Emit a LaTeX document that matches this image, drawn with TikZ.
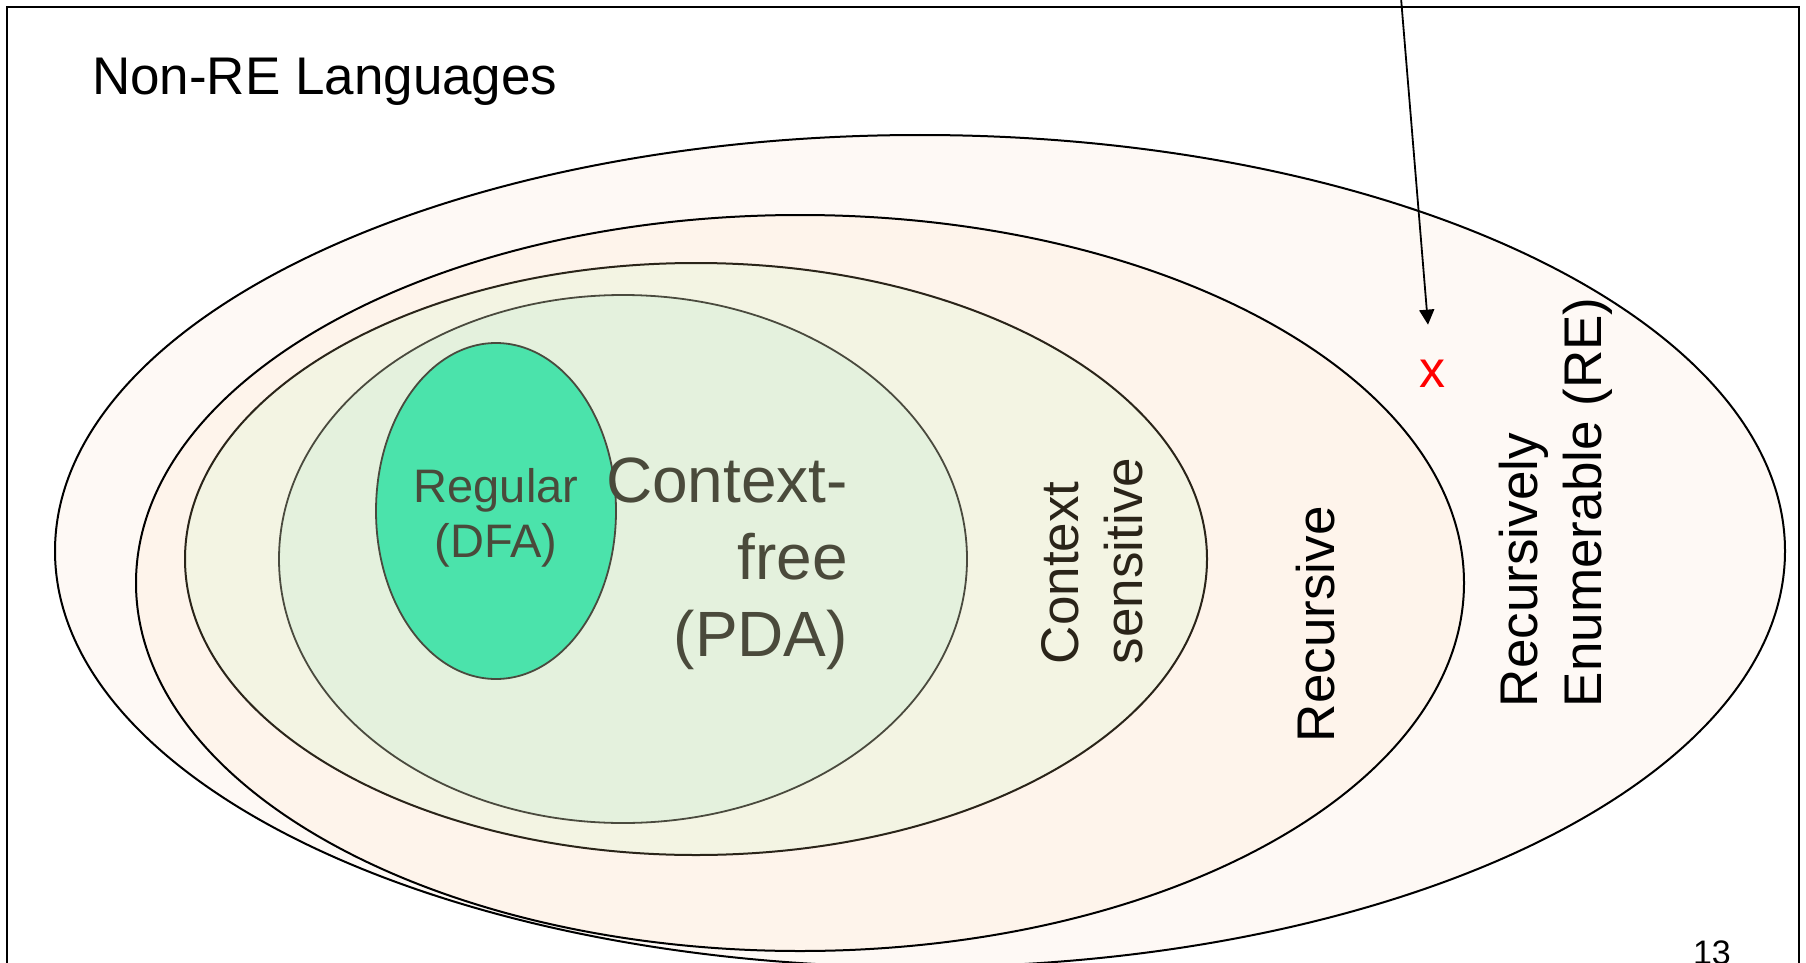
\documentclass[tikz,border=0pt]{standalone}
\usepackage{fontspec}
\setmainfont{Liberation Sans}
\usetikzlibrary{arrows.meta}
\definecolor{refill}{HTML}{FEF9F5}
\definecolor{recfill}{HTML}{FEF4EB}
\definecolor{csfill}{HTML}{F3F4E3}
\definecolor{cffill}{HTML}{E4F1DD}
\definecolor{regfill}{HTML}{4BE3AB}
\definecolor{olive}{HTML}{4A4A3B}
\definecolor{csline}{HTML}{2A2419}
\definecolor{innerline}{HTML}{4A4A3E}
\definecolor{xred}{HTML}{FF0000}
\tikzset{
  lbl/.style={inner sep=0pt, outer sep=0pt},
  outerset/.style={draw=black, line width=2pt},
  innerset/.style={draw=innerline, line width=1.8pt},
  frameline/.style={draw=black, line width=2.6pt},
  pointer/.style={-{Triangle[length=15pt,width=15pt]}, line width=1.8pt, shorten >=35pt}
}
\begin{document}
\begin{tikzpicture}[x=1pt,y=-1pt]
\useasboundingbox (0,0) rectangle (1806,963);
\fill[white] (0,0) rectangle (1806,963);
% frame
\draw[frameline] (7,963) -- (7,7) -- (1799,7) -- (1799,963);
% nested sets
\filldraw[outerset, fill=refill] (920,551) ellipse [x radius=865, y radius=416];
\filldraw[outerset, fill=recfill] (800,583) ellipse [x radius=664, y radius=368];
\filldraw[draw=csline, line width=2pt, fill=csfill] (696,559) ellipse [x radius=511, y radius=296];
\filldraw[innerset, fill=cffill] (623,559) ellipse [x radius=344, y radius=264];
\filldraw[innerset, fill=regfill] (496,511) ellipse [x radius=120, y radius=168];
% labels
\node[lbl, anchor=base west, font=\fontsize{53}{64}\selectfont] (nonre) at (92,95) {Non-RE Languages};
\node[lbl, anchor=north, align=center, text=olive, font=\fontsize{47}{55}\selectfont] (regular) at (496,468) {Regular\\(DFA)};
\node[lbl, anchor=north east, align=right, text=olive, font=\fontsize{64}{77}\selectfont] (cfl) at (848,458) {Context-\\free\\(PDA)};
\node[lbl, rotate=90, anchor=south west, align=left, text=csline, font=\fontsize{53}{64}\selectfont] (csl) at (1143,664) {Context\\sensitive};
\node[lbl, rotate=90, anchor=base west, font=\fontsize{53}{64}\selectfont] (rec) at (1334,742) {Recursive};
\node[lbl, rotate=90, anchor=south west, align=left, font=\fontsize{53}{64}\selectfont] (rel) at (1612,707) {Recursively\\Enumerable (RE)};
\node[lbl, anchor=base, text=xred, font=\fontsize{52}{60}\selectfont] (xmark) at (1432,387) {x};
\coordinate (arrowtop) at (1401,-2);
\draw[pointer] (arrowtop) -- (xmark);
\node[lbl, anchor=base west, font=\fontsize{34}{40}\selectfont] (pagenum) at (1693,964) {13};
\end{tikzpicture}
\end{document}
